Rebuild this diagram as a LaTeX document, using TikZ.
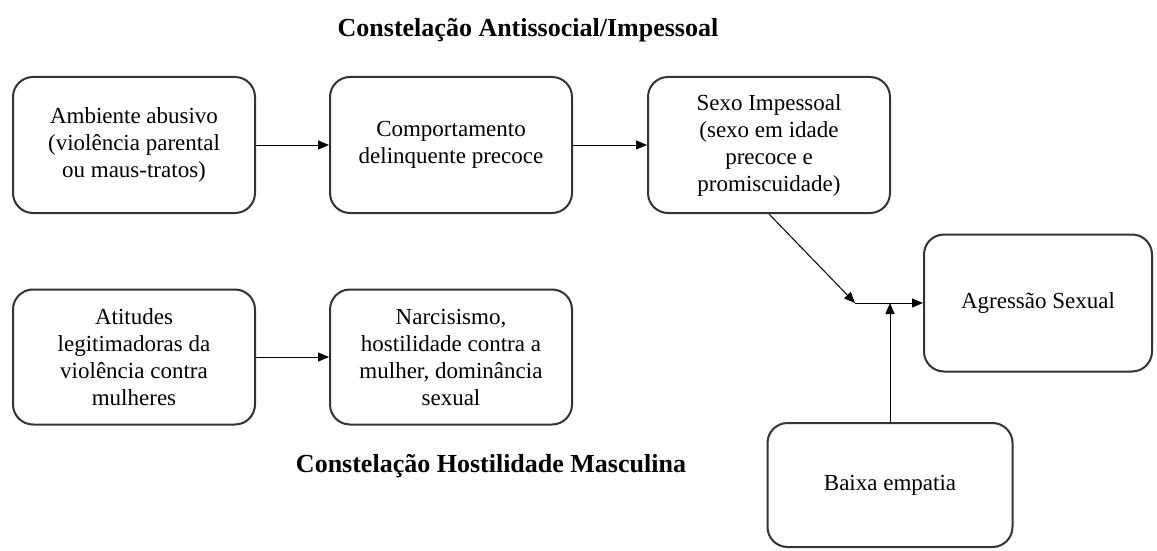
\documentclass[tikz,border=0pt]{standalone}
\usepackage{fontspec}
\setmainfont{Liberation Serif}
\usetikzlibrary{arrows.meta}
\begin{document}
\begin{tikzpicture}[x=1pt,y=-1pt,
  box/.style={draw=black!80, line width=2pt, rounded corners=20pt, align=center,
    inner sep=0pt, font=\fontsize{23}{27}\selectfont},
  conn/.style={draw=black, line width=1pt, -{Triangle[length=11pt,width=9pt]}},
  title/.style={font=\fontsize{26}{30}\selectfont\bfseries}]
\useasboundingbox (0,0) rectangle (1157,551);
\node[title] (t1) at (528,30) {Constelação Antissocial/Impessoal};
\node[title] (t2) at (491,466) {Constelação Hostilidade Masculina};
\node[box, minimum width=242pt, minimum height=136pt] (b1) at (134,145)
  {Ambiente abusivo\\(violência parental\\ou maus-tratos)};
\node[box, minimum width=242pt, minimum height=136pt] (b2) at (451,145)
  {Comportamento\\delinquente precoce};
\node[box, minimum width=242pt, minimum height=136pt] (b3) at (769,145)
  {Sexo Impessoal\\(sexo em idade\\precoce e\\promiscuidade)};
\node[box, minimum width=228pt, minimum height=137pt] (b4) at (1038,303)
  {Agressão Sexual};
\node[box, minimum width=242pt, minimum height=135pt] (b5) at (134,357)
  {Atitudes\\legitimadoras da\\violência contra\\mulheres};
\node[box, minimum width=242pt, minimum height=135pt] (b6) at (451,357)
  {Narcisismo,\\hostilidade contra a\\mulher, dominância\\sexual};
\node[box, minimum width=245pt, minimum height=124pt] (b7) at (890,485)
  {Baixa empatia};
\coordinate (j1) at (855,303);
\coordinate (j2) at (b7.north |- j1);
\draw[conn] (b1) -- (b2);
\draw[conn] (b2) -- (b3);
\draw[conn] (b5) -- (b6);
\draw[conn] (b3.south) -- (j1);
\draw[conn] (j1) -- (b4.west);
\draw[conn] (b7.north) -- (j2);
\end{tikzpicture}
\end{document}
